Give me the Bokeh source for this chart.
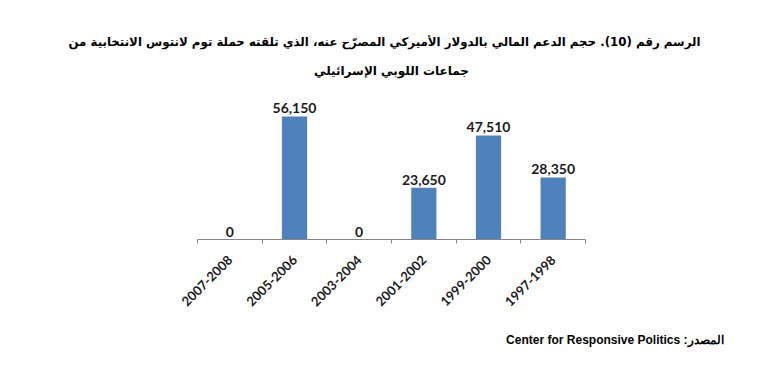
import math
from bokeh.plotting import figure
from bokeh.models import ColumnDataSource, Range1d, LinearAxis, FixedTicker, Title
from bokeh.core.properties import value
from bokeh.embed import file_html
from bokeh.resources import INLINE

categories = ["2007-2008", "2005-2006", "2003-2004", "2001-2002", "1999-2000", "1997-1998"]
amounts = [0, 56150, 0, 23650, 47510, 28350]
title_line1 = "الرسم رقم (10). حجم الدعم المالي بالدولار الأميركي المصرّح عنه، الذي تلقته حملة توم لانتوس الانتخابية من"
title_line2 = "جماعات اللوبي الإسرائيلي"
source_text = "\u202bالمصدر: Center for Responsive Politics\u202c"

positions = [i + 0.5 for i in range(len(categories))]
boundaries = list(range(len(categories) + 1))
labels = [f"{v:,}" for v in amounts]
src = ColumnDataSource(dict(x=positions, top=amounts, label=labels))

# frame: left 197, right 585, top 90, bottom 239 (page px)
p = figure(width=766, height=364, x_range=Range1d(0, len(categories)), y_range=Range1d(0, 68000),
           output_backend="svg", toolbar_location=None,
           x_axis_location=None, y_axis_location=None,
           min_border_left=197, min_border_right=181, min_border_top=90, min_border_bottom=125)
p.outline_line_color = None
p.xgrid.visible = False
p.ygrid.visible = False
p.background_fill_color = "white"
p.border_fill_color = "white"

p.title.text = title_line1
p.title.align = "left"
p.title.offset = -129
p.title.text_font = "DejaVu Sans"
p.title.text_font_style = "bold"
p.title.text_font_size = "11.8px"
p.title.text_color = "black"
p.title.standoff = 2
p.add_layout(Title(text=title_line2, standoff=25, align="center", text_font="DejaVu Sans",
                   text_font_style="bold", text_font_size="12px", text_color="black"), "above")

tick_axis = LinearAxis(ticker=FixedTicker(ticks=boundaries), major_label_text_font_size="0px",
                       axis_line_color="#868686", major_tick_line_color="#868686",
                       major_tick_in=0, major_tick_out=4, minor_tick_line_color=None,
                       major_label_standoff=0)
p.add_layout(tick_axis, "below")

label_axis = LinearAxis(ticker=FixedTicker(ticks=positions),
                        major_label_overrides={pos: cat for pos, cat in zip(positions, categories)},
                        axis_line_color=None, major_tick_line_color=None, minor_tick_line_color=None,
                        major_label_orientation=math.pi / 4, major_label_standoff=8,
                        major_label_text_font="Lato", major_label_text_font_style="bold",
                        major_label_text_font_size="13px", major_label_text_color="#1a1a1a")
p.add_layout(label_axis, "below")

p.add_layout(Title(text=source_text, align="right", offset=-138, standoff=34,
                   text_font="Liberation Sans", text_font_style="bold", text_font_size="12px",
                   text_color="black"), "below")

p.vbar(x="x", top="top", width=0.39, source=src, fill_color="#4F81BD", line_color=None)
p.text(x="x", y="top", text="label", source=src, text_align="center", text_baseline="bottom",
       y_offset=-3, text_font=value("Lato"), text_font_style="bold", text_font_size="14px",
       text_color="#1a1a1a")

open("out.html", "w").write(file_html(p, INLINE))
